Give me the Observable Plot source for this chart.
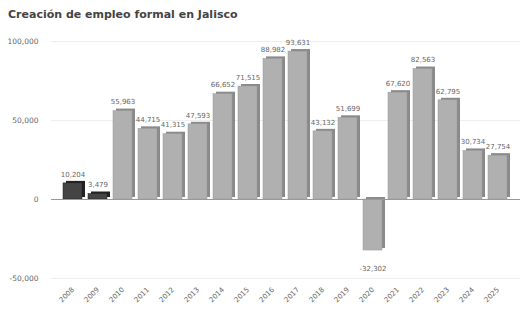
<!DOCTYPE html>
<html><head><meta charset="utf-8">
<script src="https://cdn.jsdelivr.net/npm/d3@7"></script>
<script src="https://cdn.jsdelivr.net/npm/@observablehq/plot@0.6"></script>
<style>
body{margin:0;background:#fff;font-family:"DejaVu Sans",sans-serif;}
#title{height:28px;padding:8px 0 0 8px;box-sizing:border-box;font:bold 11px "DejaVu Sans",sans-serif;color:#444;}
</style></head><body>
<div id="title">Creación de empleo formal en Jalisco</div>
<div id="chart"></div>
<script>
const years = ["2008","2009","2010","2011","2012","2013","2014","2015","2016","2017","2018","2019","2020","2021","2022","2023","2024","2025"];
const values = [10204,3479,55963,44715,41315,47593,66652,71515,88982,93631,43132,51699,-32302,67620,82563,62795,30734,27754];
const labels = ["10,204","3,479","55,963","44,715","41,315","47,593","66,652","71,515","88,982","93,631","43,132","51,699","-32,302","67,620","82,563","62,795","30,734","27,754"];
const yTicks = [-50000,0,50000,100000];
const data = years.map((y,i)=>({year:y,value:values[i],label:labels[i],dark:i<2}));
const fmt = d => d.toLocaleString("en-US");
const chart = Plot.plot({
  width:520, height:285,
  marginLeft:51, marginRight:0, marginTop:13, marginBottom:35,
  style:{fontFamily:"DejaVu Sans, sans-serif", color:"#666", background:"#fff"},
  x:{domain:years, padding:0.24, label:null},
  y:{domain:[-50000,100000], label:null},
  marks:[
    Plot.ruleY(yTicks.filter(d=>d!==0),{stroke:"#eee"}),
    Plot.barY(data,{x:"year",y:"value",fill:d=>d.dark?"#222":"#8a8a8a",dx:3,dy:-2}),
    Plot.barY(data,{x:"year",y:"value",fill:d=>d.dark?"#444":"#b0b0b0",stroke:d=>d.dark?"#222":"#999",strokeWidth:0.5}),
    Plot.ruleY([0],{stroke:"#999"}),
    Plot.text(data.filter(d=>d.value>=0),{x:"year",y:"value",text:"label",dy:-9,fontSize:7,fill:"#666"}),
    Plot.text(data.filter(d=>d.value<0),{x:"year",y:"value",text:"label",dy:18,fontSize:7,fill:"#666"}),
    Plot.axisX({fontSize:7,tickSize:0,tickRotate:-45,tickPadding:10,fill:"#666"}),
    Plot.axisY({ticks:yTicks,tickFormat:fmt,fontSize:7.5,tickSize:0,tickPadding:13,fill:"#666"})
  ]
});
document.getElementById("chart").appendChild(chart);
</script></body></html>
